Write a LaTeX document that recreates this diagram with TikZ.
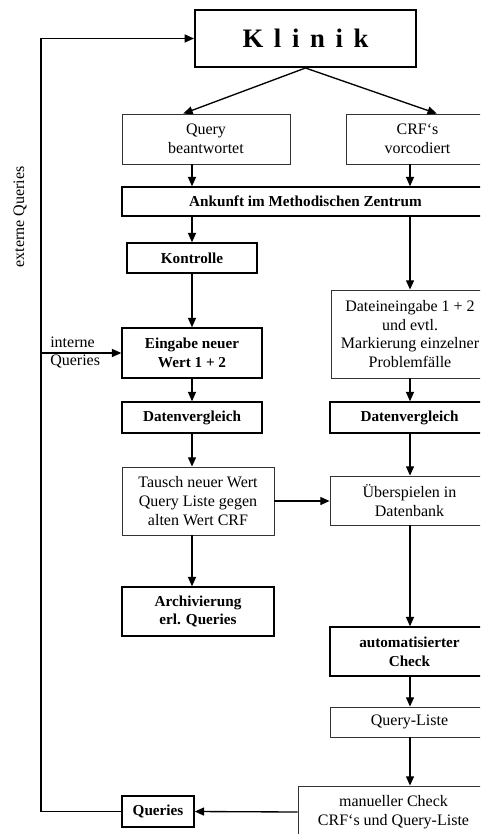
\documentclass[tikz,border=0pt]{standalone}
\usepackage{fontspec}
\setmainfont{Liberation Serif}
\usetikzlibrary{arrows.meta}

\begin{document}
\begin{tikzpicture}[x=0.75pt,y=-0.75pt,
    box/.style={draw=black!80,line width=0.6pt,inner sep=0pt,align=center,
        font=\fontsize{12}{14.2}\selectfont},
    boldbox/.style={box,draw=black,line width=1.1pt,
        font=\fontsize{11.4}{14}\selectfont\bfseries},
    arr/.style={->,line width=1pt},
    >={Triangle[length=7pt,width=6pt]}]
    \useasboundingbox (0,0) rectangle (480,834);
    \clip (0,0) rectangle (480,834);

    % Top: the clinic and what comes back from it
    \node [boldbox,line width=1.5pt,minimum width=165.75pt,minimum height=42.75pt,
        font=\fontsize{20}{24}\selectfont\bfseries] (klinik) at (305.5,38.5)
        {K\kern8pt l\kern8pt i\kern8pt n\kern8pt i\kern8pt k};
    \node [box,minimum width=126pt,minimum height=37.5pt] (query) at (206,139) {Query\\beantwortet};
    \node [box,minimum width=107.25pt,minimum height=37.5pt] (crf) at (417.5,139) {CRF‘s\\vorcodiert};
    \node [boldbox,minimum width=275.25pt,minimum height=21.75pt] (ankunft) at (305.5,201.5) {Ankunft im Methodischen Zentrum};

    % Left column: the queries
    \node [boldbox,minimum width=97.5pt,minimum height=22.5pt] (kontrolle) at (192,258) {Kontrolle};
    \node [boldbox,minimum width=105pt,minimum height=37.5pt] (eingabe) at (192,353) {Eingabe neuer\\Wert 1 + 2};
    \node [boldbox,minimum width=105pt,minimum height=23.25pt] (dvl) at (192,417.5) {Datenvergleich};
    \node [box,minimum width=114pt,minimum height=51pt] (tausch) at (198,501) {Tausch neuer Wert\\Query Liste gegen\\alten Wert CRF};
    \node [boldbox,minimum width=114pt,minimum height=36.75pt] (archiv) at (198,611.5) {Archivierung\\erl. Queries};
    \node [boldbox,minimum width=54pt,minimum height=23.25pt] (queries) at (158,811.5) {Queries};

    % Right column: the CRFs
    \node [box,minimum width=118.5pt,minimum height=66pt] (datei) at (410,334) {Dateineingabe 1 + 2\\und evtl.\\Markierung einzelner\\Problemfälle};
    \node [boldbox,minimum width=119.25pt,minimum height=23.25pt] (dvr) at (409.5,417.5) {Datenvergleich};
    \node [box,minimum width=119.25pt,minimum height=36.75pt] (ueber) at (409.5,500.5) {Überspielen in\\Datenbank};
    \node [boldbox,minimum width=119.25pt,minimum height=36.75pt] (auto) at (409.5,651.5) {automatisierter\\Check};
    \node [box,minimum width=119.25pt,minimum height=22.5pt] (qliste) at (409.5,722) {Query-Liste};
    \node [box,minimum width=143.25pt,minimum height=39pt] (manuell) at (393.5,812) {manueller Check\\CRF‘s und Query-Liste};

    % Connectors
    \draw [arr] (klinik.south) -- ([xshift=-17pt]query.north);
    \draw [arr] (klinik.south) -- ([xshift=14.5pt]crf.north);
    \draw [arr] (query.south -| eingabe) -- (ankunft.north -| eingabe);
    \draw [arr] (crf.south -| datei) -- (ankunft.north -| datei);
    \draw [arr] (ankunft.south -| kontrolle) -- (kontrolle.north);
    \draw [arr] (kontrolle) -- (eingabe);
    \draw [arr] (eingabe) -- (dvl);
    \draw [arr] (dvl) -- (tausch.north -| dvl);
    \draw [arr] (tausch.south -| dvl) -- (archiv.north -| dvl);
    \draw [arr] (tausch.east) -- (tausch.east -| ueber.west);
    \draw [arr] (ankunft.south -| datei) -- (datei.north);
    \draw [arr] (datei) -- (dvr.north -| datei);
    \draw [arr] (dvr.south -| datei) -- (ueber.north -| datei);
    \draw [arr] (ueber.south -| datei) -- (auto.north -| datei);
    \draw [arr] (auto.south -| datei) -- (qliste.north -| datei);
    \draw [arr] (qliste.south -| datei) -- (manuell.north -| datei);
    \draw [arr] (manuell.west) -- (queries.east);

    % The way back to the clinic
    \coordinate (turn) at (41,38.5);
    \draw [arr] (queries.west) -| (turn) -- (klinik.west);
    \draw [arr] (eingabe.west -| turn) -- (eingabe.west);
    \node [anchor=west,align=left,inner sep=0pt,font=\fontsize{12}{13.5}\selectfont] (intern) at (50,352) {interne\\Queries};
    \node [rotate=90,inner sep=0pt,font=\fontsize{12}{14}\selectfont] (extern) at (20,217) {externe Queries};
\end{tikzpicture}
\end{document}
